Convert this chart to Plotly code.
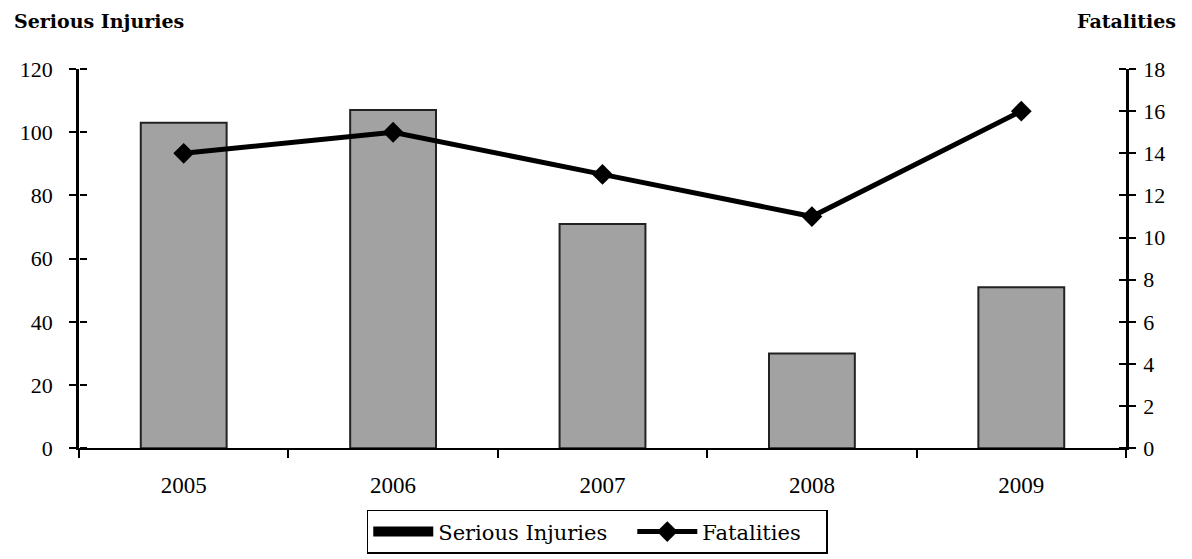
import plotly.graph_objects as go

years = ["2005", "2006", "2007", "2008", "2009"]
serious_injuries = [103, 107, 71, 30, 51]
fatalities = [14, 15, 13, 11, 16]
left_ticks = [0, 20, 40, 60, 80, 100, 120]
right_ticks = [0, 2, 4, 6, 8, 10, 12, 14, 16, 18]

FONT = "Liberation Serif"
WIDE = "DejaVu Serif"
NB = "\u00a0"

fig = go.Figure()
fig.add_trace(go.Bar(
    x=years, y=serious_injuries, name="Serious Injuries",
    marker=dict(color="#a2a2a2", line=dict(color="#222222", width=2)),
    width=0.41, yaxis="y", showlegend=False,
))
# legend entry (scanned legend swatch is a solid black block)
fig.add_trace(go.Scatter(
    x=years, y=[None] * 5, name="Serious Injuries" + NB * 3, mode="lines",
    line=dict(color="black", width=14),
    yaxis="y", showlegend=True, hoverinfo="skip",
))
fig.add_trace(go.Scatter(
    x=years, y=fatalities, name="Fatalities" + NB * 3, mode="lines+markers",
    line=dict(color="black", width=5),
    marker=dict(symbol="diamond", size=16, color="black"),
    yaxis="y2",
))

fig.update_layout(
    width=1184, height=551,
    margin=dict(l=67, r=66, t=61, b=108),
    plot_bgcolor="white", paper_bgcolor="white",
    font=dict(family=FONT, size=20, color="black"),
    showlegend=True,
    xaxis=dict(
        type="category", showline=True, linecolor="black", linewidth=2,
        ticks="outside", tickson="boundaries", ticklen=8, tickcolor="black",
        tickwidth=2, showgrid=False, zeroline=False,
        tickfont=dict(size=23), ticklabelstandoff=15,
    ),
    yaxis=dict(
        range=[0, 120], tickvals=left_ticks, showline=True, linecolor="black",
        linewidth=2.5, ticks="outside", ticklen=7, tickwidth=2, tickcolor="black",
        showgrid=False, zeroline=False, tickfont=dict(size=22),
        ticklabelstandoff=12,
    ),
    yaxis3=dict(
        range=[0, 120], tickvals=left_ticks, overlaying="y", side="right",
        anchor="free", position=0,
        ticks="outside", ticklen=7, tickwidth=2, tickcolor="black",
        showticklabels=False, showgrid=False, zeroline=False, showline=False,
    ),
    yaxis2=dict(
        range=[0, 18], tickvals=right_ticks, overlaying="y", side="right",
        showline=True, linecolor="black", linewidth=2.5, ticks="outside",
        ticklen=7, tickwidth=2, tickcolor="black", showgrid=False,
        zeroline=False, tickfont=dict(size=22), ticklabelstandoff=3,
    ),
    yaxis4=dict(
        range=[0, 18], tickvals=right_ticks, overlaying="y", side="left",
        anchor="free", position=1,
        ticks="outside", ticklen=7, tickwidth=2, tickcolor="black",
        showticklabels=False, showgrid=False, zeroline=False, showline=False,
    ),
    legend=dict(
        orientation="h", x=0.495, xanchor="center",
        yref="container", y=0.089, yanchor="top",
        bordercolor="black", borderwidth=1.5,
        font=dict(family=WIDE, size=21),
        itemwidth=60, tracegroupgap=0,
    ),
    annotations=[
        dict(text="<b>Serious Injuries</b>", xref="paper", yref="paper",
             x=-0.064, y=1.126, xanchor="left", yanchor="middle",
             showarrow=False, font=dict(family=WIDE, size=19)),
        dict(text="<b>Fatalities</b>", xref="paper", yref="paper",
             x=1.0495, y=1.126, xanchor="right", yanchor="middle",
             showarrow=False, font=dict(family=WIDE, size=19)),
    ],
)

# invisible traces to activate the crossing-tick axes
fig.add_trace(go.Scatter(x=years, y=[None] * 5, yaxis="y3", showlegend=False, hoverinfo="skip"))
fig.add_trace(go.Scatter(x=years, y=[None] * 5, yaxis="y4", showlegend=False, hoverinfo="skip"))

fig.write_html("out.html")
